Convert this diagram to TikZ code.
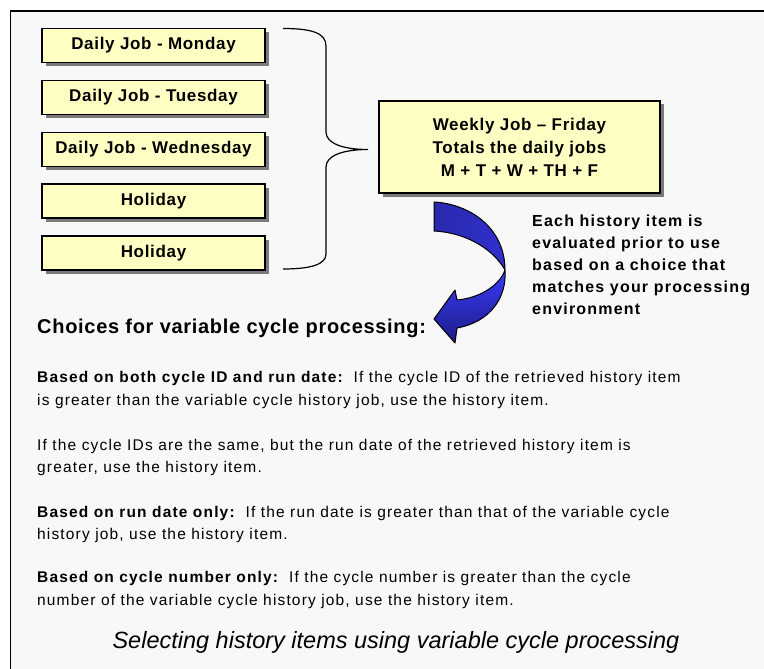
\documentclass[tikz,border=0pt]{standalone}
\usepackage{fontspec}
\setmainfont{Liberation Sans}
\usetikzlibrary{shadows}
\definecolor{panel}{HTML}{F8F8F8}
\definecolor{boxfill}{HTML}{FFFFC4}
\definecolor{boxshadow}{HTML}{7A7A7A}
\definecolor{arrowmid}{HTML}{3030CC}
\definecolor{arrowlight}{HTML}{3A3AFA}
\definecolor{arrowdark}{HTML}{1C1C86}
\newfontfamily\boxfont[LetterSpace=4]{Liberation Sans Bold}
\newfontfamily\notefont[LetterSpace=7.5]{Liberation Sans Bold}
\newfontfamily\headfont[LetterSpace=3.5]{Liberation Sans Bold}
\newfontfamily\bodyfont[LetterSpace=7.5]{Liberation Sans}
\newfontfamily\bodybold[LetterSpace=7.5]{Liberation Sans Bold}
\newfontfamily\capfont{Liberation Sans Italic}
\tikzset{
  jobbox/.style={draw=black, line width=1.3pt, fill=boxfill,
    drop shadow={shadow xshift=3.5pt, shadow yshift=-3.5pt, fill=boxshadow, opacity=1},
    inner sep=0pt, font=\fontsize{17}{20}\boxfont},
  daybox/.style={jobbox, minimum width=223pt, minimum height=34pt},
  weekbox/.style={jobbox, minimum width=281pt, minimum height=92pt, align=center,
    font=\fontsize{17}{23}\boxfont},
  notetext/.style={anchor=base west, inner sep=0pt, font=\fontsize{16}{22}\notefont},
  bodyline/.style={anchor=base west, inner sep=0pt, font=\fontsize{15.5}{20}\bodyfont},
  bracepen/.style={draw=black, line width=1.2pt},
  arrowpen/.style={draw=black, line width=1pt, line join=round}
}
\begin{document}
\begin{tikzpicture}[x=1pt,y=-1pt]
\useasboundingbox (0,0) rectangle (764,669);
\clip (0,0) rectangle (764,669);
\fill[white] (0,0) rectangle (764,669);
% framed panel running off the right and bottom edges
\filldraw[fill=panel, draw=black, line width=1.8pt] (10.5,11) rectangle (790,700);

% daily jobs
\node[daybox] (mon) at (153.5,45.5) {Daily Job - Monday};
\node[daybox] (tue) at (153.5,97.5) {Daily Job - Tuesday};
\node[daybox] (wed) at (153.5,149.5) {Daily Job - Wednesday};
\node[daybox] (hol1) at (153.5,201) {Holiday};
\node[daybox] (hol2) at (153.5,253) {Holiday};

% weekly job
\node[weekbox] (week) at (519.5,147) {Weekly Job – Friday\\Totals the daily jobs\\M + T + W + TH + F};

% curly brace grouping the daily jobs
\coordinate (btop) at (283,28.5);
\coordinate (bbot) at (283,269);
\coordinate (btip) at (368,149.5);
\draw[bracepen] (btop) .. controls (312,28.5) and (326,33) .. (326,46)
  -- (326,132) .. controls (326,143) and (342,149.5) .. (btip)
  .. controls (342,149.5) and (326,156) .. (326,167)
  -- (326,254) .. controls (326,264) and (312,269) .. (bbot);

% curved arrow: upper band
\coordinate (twist) at (505,270);
\path[arrowpen, left color=arrowmid!85!black, right color=arrowmid]
  (434,202) .. controls (470,204) and (505,228) .. (twist)
  .. controls (495,252) and (470,233) .. (434,231) -- cycle;
% curved arrow: lower band and head
\path[arrowpen, shading angle=60, shading=axis, top color=arrowlight, bottom color=arrowdark]
  (twist) .. controls (507,298) and (490,322) .. (457,328)
  -- (455,343) -- (434,319) -- (455,290) -- (457,300)
  .. controls (480,298) and (500,285) .. (twist) -- cycle;

% note beside the arrow
\node[notetext] (n1) at (532,226) {Each history item is};
\node[notetext] (n2) at (532,248) {evaluated prior to use};
\node[notetext] (n3) at (532,270) {based on a choice that};
\node[notetext] (n4) at (532,292) {matches your processing};
\node[notetext] (n5) at (532,314) {environment};

% heading
\node[anchor=base west, inner sep=0pt, font=\fontsize{20}{24}\headfont] (head) at (37,333)
  {Choices for variable cycle processing:};

% choices
\node[bodyline] (p1a) at (37,382) {{\bodybold Based on both cycle ID and run date:}\ \ If the cycle ID of the retrieved history item};
\node[bodyline] (p1b) at (37,405) {is greater than the variable cycle history job, use the history item.};
\node[bodyline] (p2a) at (37,450) {If the cycle IDs are the same, but the run date of the retrieved history item is};
\node[bodyline] (p2b) at (37,472) {greater, use the history item.};
\node[bodyline] (p3a) at (37,517) {{\bodybold Based on run date only:}\ \ If the run date is greater than that of the variable cycle};
\node[bodyline] (p3b) at (37,539) {history job, use the history item.};
\node[bodyline] (p4a) at (37,582) {{\bodybold Based on cycle number only:}\ \ If the cycle number is greater than the cycle};
\node[bodyline] (p4b) at (37,605) {number of the variable cycle history job, use the history item.};

% caption
\node[anchor=base, inner sep=0pt, font=\fontsize{23.5}{27}\capfont] (cap) at (396,648)
  {Selecting history items using variable cycle processing};
\end{tikzpicture}
\end{document}
